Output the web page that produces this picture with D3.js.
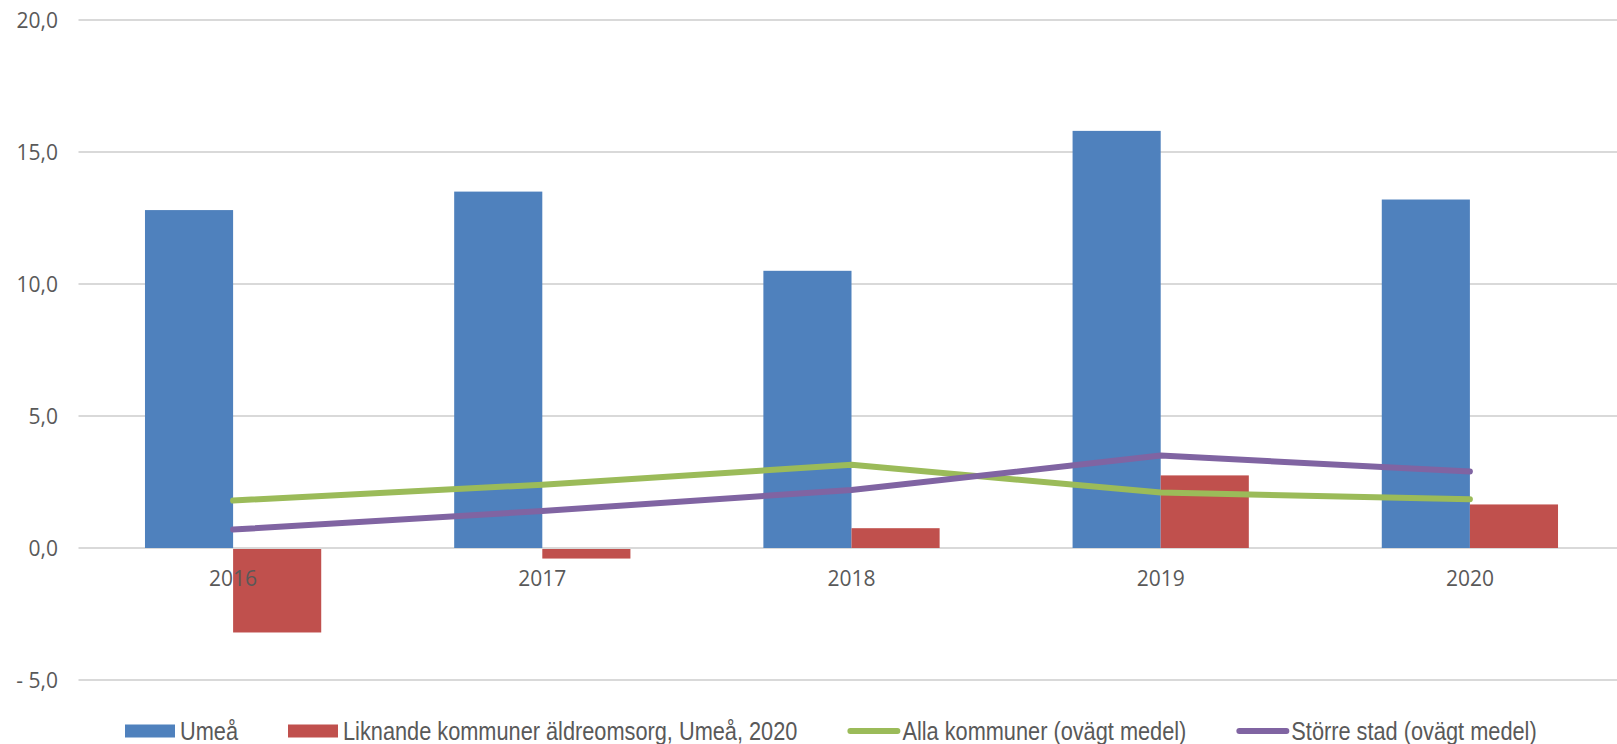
<!DOCTYPE html>
<html>
<head>
<meta charset="utf-8">
<script src="https://cdn.jsdelivr.net/npm/d3@7"></script>
<style>
  html, body { margin: 0; padding: 0; background: #fff; }
  svg { display: block; }
</style>
</head>
<body>
<svg id="chart" width="1617" height="744"></svg>
<script>
// ---- data ----
const years = ["2016", "2017", "2018", "2019", "2020"];
const umea = [12.8, 13.5, 10.5, 15.8, 13.2];
const liknande = [-3.2, -0.4, 0.75, 2.75, 1.65];
const allaKommuner = [1.8, 2.4, 3.15, 2.1, 1.85];
const storreStad = [0.7, 1.4, 2.2, 3.5, 2.9];
const yTicks = [-5, 0, 5, 10, 15, 20];
const seriesNames = ["Umeå", "Liknande kommuner äldreomsorg, Umeå, 2020", "Alla kommuner (ovägt medel)", "Större stad (ovägt medel)"];
const colors = ["#4F81BD", "#C0504D", "#9BBB59", "#8064A2"];

// ---- layout ----
const W = 1617, H = 744;
const plotLeft = 78.5, plotRight = 1624.5, plotTop = 20, plotBottom = 680;
const svg = d3.select("#chart");

const x = d3.scaleBand().domain(years).range([plotLeft, plotRight])
  .paddingInner(0.43).paddingOuter(0.215);
const xs = d3.scaleBand().domain(["bar0", "bar1"]).range([0, x.bandwidth()]);
const y = d3.scaleLinear().domain([-5, 20]).range([plotBottom, plotTop]);

const loc = d3.formatLocale({decimal: ",", thousands: " ", grouping: [3], currency: ["", ""], minus: "- "});
const fmt = loc.format(".1f");

// gridlines
svg.append("g").selectAll("line").data(yTicks).join("line")
  .attr("x1", plotLeft).attr("x2", W)
  .attr("y1", d => y(d)).attr("y2", d => y(d))
  .attr("stroke", "#D9D9D9").attr("stroke-width", 2);

// y axis labels
const yAxis = d3.axisLeft(y).tickValues(yTicks).tickFormat(fmt).tickSize(0).tickPadding(0);
const gy = svg.append("g").attr("transform", "translate(58,0)").call(yAxis);
gy.select(".domain").remove();
gy.selectAll("text").attr("fill", "#595959").style("font-family", "'Open Sans', sans-serif")
  .style("font-size", "21px").attr("dy", "0.35em");

// bars
const barData = [umea, liknande];
const gb = svg.append("g");
barData.forEach((vals, si) => {
  gb.selectAll(null).data(years).join("rect")
    .attr("x", d => x(d) + xs("bar" + si))
    .attr("width", xs.bandwidth())
    .attr("y", (d, i) => vals[i] >= 0 ? y(vals[i]) : y(0) + 1)
    .attr("height", (d, i) => Math.abs(y(vals[i]) - y(0)) - (vals[i] >= 0 ? 0 : 1))
    .attr("fill", colors[si]);
});

// x axis labels
const xAxis = d3.axisBottom(x).tickSize(0).tickPadding(0);
const gx = svg.append("g").attr("transform", "translate(0,579)").call(xAxis);
gx.select(".domain").remove();
gx.selectAll("text").attr("fill", "#595959").attr("dy", "0.35em")
  .style("font-family", "'Open Sans', sans-serif").style("font-size", "21px");

// lines
const lineData = [allaKommuner, storreStad];
const line = d3.line().x((d, i) => x(years[i]) + x.bandwidth() / 2).y(d => y(d));
lineData.forEach((vals, li) => {
  svg.append("path").datum(vals).attr("d", line)
    .attr("fill", "none").attr("stroke", colors[li + 2])
    .attr("stroke-width", 6).attr("stroke-linecap", "round").attr("stroke-linejoin", "round");
});

// legend
const lg = svg.append("g").attr("transform", "translate(0,731)");
const sx = 0.87;
let lx = 125;
seriesNames.forEach((name, i) => {
  const g = lg.append("g").attr("transform", `translate(${lx},0)`);
  if (i < 2) {
    g.append("rect").attr("x", 0).attr("y", -6.5).attr("width", 50).attr("height", 13).attr("fill", colors[i]);
  } else {
    g.append("line").attr("x1", 3).attr("x2", 50).attr("y1", 0).attr("y2", 0)
      .attr("stroke", colors[i]).attr("stroke-width", 6).attr("stroke-linecap", "round");
  }
  const t = g.append("text").attr("transform", `translate(55,0) scale(${sx},1)`)
    .attr("dy", "0.35em")
    .attr("fill", "#595959")
    .style("font-family", "'Liberation Sans', Arial, sans-serif")
    .style("font-size", "25px").text(name);
  lx += 55 + t.node().getComputedTextLength() * sx + 50;
});
</script>
</body>
</html>
